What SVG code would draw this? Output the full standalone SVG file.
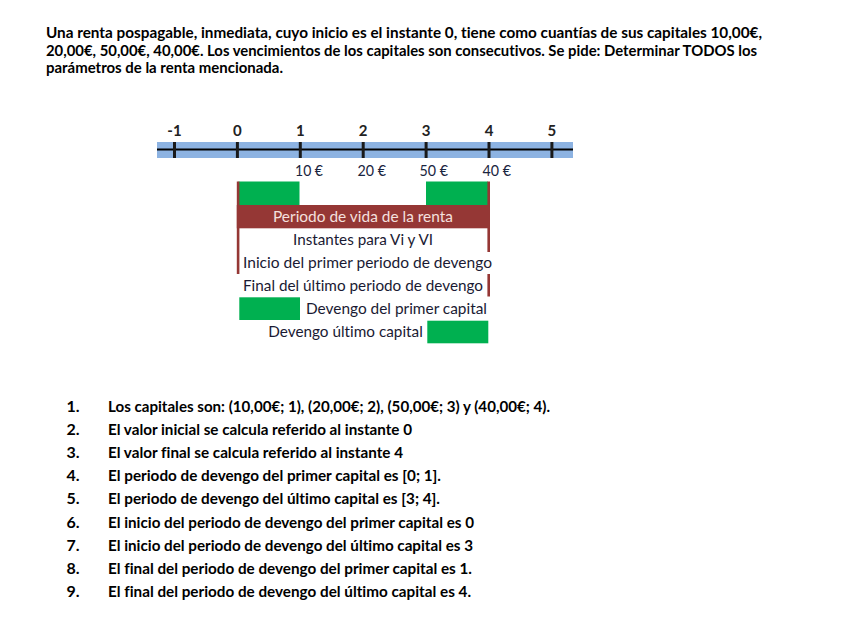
<svg xmlns="http://www.w3.org/2000/svg" width="848" height="636" viewBox="0 0 848 636">
  <style>
    text { font-variant-ligatures: none; font-feature-settings: "liga" 0; }
    .title { font-family: Lato, "Liberation Sans", sans-serif; font-weight: bold; font-size: 15.5px; fill: #000; }
    .list { font-family: Lato, "Liberation Sans", sans-serif; font-weight: bold; font-size: 16px; fill: #000; }
    .tick { font-family: Lato, "Liberation Sans", sans-serif; font-weight: bold; font-size: 15px; fill: #222; text-anchor: middle; }
    .eur { font-family: Lato, "Liberation Sans", sans-serif; font-size: 15px; fill: #1a2540; }
    .lbl { font-family: Lato, "Liberation Sans", sans-serif; font-size: 16px; fill: #1a1a33; }
    .band-t { font-family: Lato, "Liberation Sans", sans-serif; font-size: 16px; fill: #f4e0df; text-anchor: middle; }
    .green { fill: #00b050; }
    .red { fill: #953735; }
    .tk { stroke: #1a1a1a; stroke-width: 3; }
  </style>
  <rect width="848" height="636" fill="#fff"/>

  <g id="enunciado">
    <text class="title" x="46" y="38" textLength="716" lengthAdjust="spacingAndGlyphs">Una renta pospagable, inmediata, cuyo inicio es el instante 0,  tiene como cuantías de sus capitales 10,00€,</text>
    <text class="title" x="46" y="55.5" textLength="711" lengthAdjust="spacingAndGlyphs">20,00€, 50,00€, 40,00€.  Los vencimientos de los capitales son consecutivos. Se pide: Determinar TODOS los</text>
    <text class="title" x="46" y="73" textLength="237" lengthAdjust="spacingAndGlyphs">parámetros de la renta mencionada.</text>
  </g>

  <g id="eje">
    <rect x="157" y="142" width="416" height="16" fill="#8db3e2"/>
    <line x1="157" y1="149.5" x2="573" y2="149.5" stroke="#000" stroke-width="2"/>
    <line class="tk" x1="174.5" y1="142" x2="174.5" y2="158"/>
    <line class="tk" x1="237.4" y1="142" x2="237.4" y2="158"/>
    <line class="tk" x1="300.3" y1="142" x2="300.3" y2="158"/>
    <line class="tk" x1="363.2" y1="142" x2="363.2" y2="158"/>
    <line class="tk" x1="426.1" y1="142" x2="426.1" y2="158"/>
    <line class="tk" x1="489" y1="142" x2="489" y2="158"/>
    <line class="tk" x1="551.9" y1="142" x2="551.9" y2="158"/>
    <text class="tick" x="174.5" y="135.5">-1</text>
    <text class="tick" x="237.4" y="135.5">0</text>
    <text class="tick" x="300.3" y="135.5">1</text>
    <text class="tick" x="363.2" y="135.5">2</text>
    <text class="tick" x="426.1" y="135.5">3</text>
    <text class="tick" x="489" y="135.5">4</text>
    <text class="tick" x="551.9" y="135.5">5</text>
  </g>

  <g id="cuantias">
    <text class="eur" x="295" y="176" textLength="28" lengthAdjust="spacingAndGlyphs">10 €</text>
    <text class="eur" x="357.5" y="176" textLength="28.5" lengthAdjust="spacingAndGlyphs">20 €</text>
    <text class="eur" x="419.5" y="176" textLength="28.5" lengthAdjust="spacingAndGlyphs">50 €</text>
    <text class="eur" x="482.5" y="176" textLength="28.5" lengthAdjust="spacingAndGlyphs">40 €</text>
  </g>

  <g id="devengo-primero">
    <rect class="green" x="238.5" y="181.5" width="61" height="23.5"/>
  </g>
  <g id="devengo-ultimo">
    <rect class="green" x="426" y="181.5" width="62" height="23.5"/>
  </g>

  <g id="conectores">
    <rect class="red" x="236.8" y="181.5" width="2.6" height="92.5"/>
    <rect class="red" x="487.4" y="181.5" width="2.6" height="70.5"/>
    <rect class="red" x="487.4" y="274" width="2.6" height="22.5"/>
  </g>

  <g id="periodo-vida">
    <rect class="red" x="236.8" y="205" width="253.2" height="23.3"/>
    <text class="band-t" x="363" y="221.8" textLength="180" lengthAdjust="spacingAndGlyphs">Periodo de vida de la renta</text>
  </g>

  <g id="instantes">
    <text class="lbl" x="293" y="245" textLength="140" lengthAdjust="spacingAndGlyphs" fill="#3a3a55">Instantes para Vi y VI</text>
  </g>
  <g id="inicio">
    <text class="lbl" x="243" y="267.8" textLength="249" lengthAdjust="spacingAndGlyphs">Inicio del primer periodo de devengo</text>
  </g>
  <g id="final">
    <text class="lbl" x="243" y="290.5" textLength="240" lengthAdjust="spacingAndGlyphs">Final del último periodo de devengo</text>
  </g>
  <g id="leyenda-primero">
    <rect class="green" x="239.3" y="297.3" width="60.7" height="22.7"/>
    <text class="lbl" x="306" y="313.5" textLength="181" lengthAdjust="spacingAndGlyphs">Devengo del primer capital</text>
  </g>
  <g id="leyenda-ultimo">
    <text class="lbl" x="268.3" y="336.8" textLength="154.5" lengthAdjust="spacingAndGlyphs">Devengo último capital</text>
    <rect class="green" x="427.3" y="320.7" width="61" height="22.6"/>
  </g>

  <g id="lista">
    <text class="list" x="66.5" y="412">1.</text>
    <text class="list" x="108" y="412" textLength="442" lengthAdjust="spacingAndGlyphs">Los capitales son: (10,00€; 1), (20,00€; 2), (50,00€; 3) y (40,00€; 4).</text>
    <text class="list" x="66.5" y="435.1">2.</text>
    <text class="list" x="108" y="435.1" textLength="304" lengthAdjust="spacingAndGlyphs">El valor inicial se calcula referido al instante 0</text>
    <text class="list" x="66.5" y="458.2">3.</text>
    <text class="list" x="108" y="458.2" textLength="295" lengthAdjust="spacingAndGlyphs">El valor final se calcula referido al instante 4</text>
    <text class="list" x="66.5" y="481.3">4.</text>
    <text class="list" x="108" y="481.3" textLength="333" lengthAdjust="spacingAndGlyphs">El periodo de devengo del primer capital es [0; 1].</text>
    <text class="list" x="66.5" y="504.4">5.</text>
    <text class="list" x="108" y="504.4" textLength="332" lengthAdjust="spacingAndGlyphs">El periodo de devengo del último capital es [3; 4].</text>
    <text class="list" x="66.5" y="527.5">6.</text>
    <text class="list" x="108" y="527.5" textLength="366" lengthAdjust="spacingAndGlyphs">El inicio del periodo de devengo del primer capital es 0</text>
    <text class="list" x="66.5" y="550.6">7.</text>
    <text class="list" x="108" y="550.6" textLength="365" lengthAdjust="spacingAndGlyphs">El inicio del periodo de devengo del último capital es 3</text>
    <text class="list" x="66.5" y="573.7">8.</text>
    <text class="list" x="108" y="573.7" textLength="364" lengthAdjust="spacingAndGlyphs">El final del periodo de devengo del primer capital es 1.</text>
    <text class="list" x="66.5" y="596.8">9.</text>
    <text class="list" x="108" y="596.8" textLength="363" lengthAdjust="spacingAndGlyphs">El final del periodo de devengo del último capital es 4.</text>
  </g>
</svg>
